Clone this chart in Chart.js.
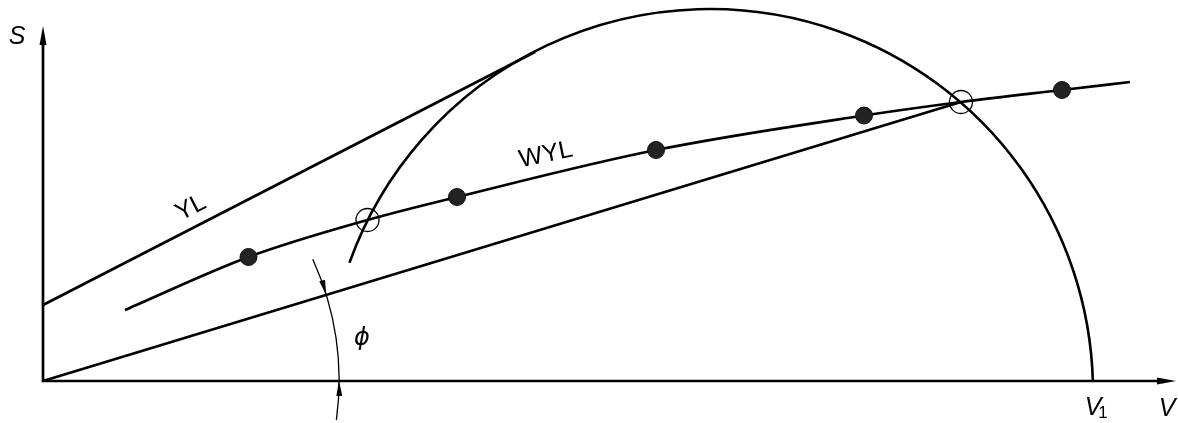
<!DOCTYPE html>
<html>
<head>
<meta charset="utf-8">
<script src="https://cdn.jsdelivr.net/npm/chart.js@4/dist/chart.umd.min.js"></script>
<style>
html,body{margin:0;padding:0;background:#fff;overflow:hidden;}
canvas{display:block;}
</style>
</head>
<body>
<canvas id="c" width="1178" height="423"></canvas>
<script>
// ---- data (units) ----
const axisEnd = [11.33, 3.55];            // arrow tips of V and S axes
const ylLine = [[0, 0.76], [4.92, 3.29]]; // YL tangent line
const originLine = [[0, 0], [9.18, 2.79]];// line from origin to right intersection
const wylX = [0.82, 2.055, 3.245, 4.14, 6.13, 8.21, 9.18, 10.19, 10.87];
const wylY = [0.71, 1.24, 1.61, 1.84, 2.31, 2.655, 2.79, 2.91, 2.99];
const dotX = [2.055, 4.14, 6.13, 8.21, 10.19];
const dotY = [1.24, 1.84, 2.31, 2.655, 2.91];
const openX = [3.245, 9.18];
const openY = [1.61, 2.79];
const arcCenter = [6.67, -0.11];
const arcRadius = 3.83;
const arcStart = [3.07, 1.18];
const phiRadius = 2.96;
const phiAngles = [-7.6, 24.3];           // degrees
const labels = {S:'S', V:'V', V1:'V', sub:'1', YL:'YL', WYL:'WYL', phi:'ϕ'};

const pts = (xs, ys) => xs.map((v, i) => ({x: v, y: ys[i]}));
const seg = a => a.map(p => ({x: p[0], y: p[1]}));

const overlay = {
  id: 'overlay',
  afterDatasetsDraw(chart) {
    const {ctx, scales: {x, y}} = chart;
    const px = v => x.getPixelForValue(v), py = v => y.getPixelForValue(v);
    const unit = px(1) - px(0);
    ctx.save();
    ctx.strokeStyle = '#000'; ctx.fillStyle = '#000';
    // axes
    ctx.lineWidth = 2.7;
    ctx.beginPath();
    ctx.moveTo(px(0), py(axisEnd[1]) + 10); ctx.lineTo(px(0), py(0));
    ctx.lineTo(px(axisEnd[0]) - 10, py(0));
    ctx.stroke();
    const head = (tx, ty, ang, len, hw) => {
      ctx.beginPath();
      ctx.moveTo(tx, ty);
      ctx.lineTo(tx - len * Math.cos(ang) + hw * Math.sin(ang), ty - len * Math.sin(ang) - hw * Math.cos(ang));
      ctx.lineTo(tx - len * Math.cos(ang) - hw * Math.sin(ang), ty - len * Math.sin(ang) + hw * Math.cos(ang));
      ctx.closePath(); ctx.fill();
    };
    head(px(0), py(axisEnd[1]), -Math.PI / 2, 19, 3.5);
    head(px(axisEnd[0]), py(0), 0, 19, 3.5);
    // big arc
    const cx = px(arcCenter[0]), cy = py(arcCenter[1]), R = arcRadius * unit;
    const a0 = Math.atan2(py(arcStart[1]) - cy, px(arcStart[0]) - cx);
    const a1 = Math.asin((py(0) - cy) / R);
    ctx.lineWidth = 2.6;
    ctx.beginPath(); ctx.arc(cx, cy, R, a0, a1, false); ctx.stroke();
    // phi dimension arc
    const ox = px(0), oy = py(0), r = phiRadius * unit;
    const d2r = Math.PI / 180;
    ctx.lineWidth = 1.3;
    ctx.beginPath(); ctx.arc(ox, oy, r, -phiAngles[1] * d2r, -phiAngles[0] * d2r, false); ctx.stroke();
    head(ox + r, oy, -Math.PI / 2 - 0.02, 15, 3);
    const lineAng = Math.atan2(py(originLine[1][1]) - oy, px(originLine[1][0]) - ox);
    const tx = ox + r * Math.cos(lineAng), ty = oy + r * Math.sin(lineAng);
    head(tx, ty, lineAng + Math.PI / 2 + 0.02, 15, 3);
    // labels
    ctx.textAlign = 'center'; ctx.textBaseline = 'middle';
    ctx.font = 'italic 25px "Liberation Sans", Arial, sans-serif';
    ctx.fillText(labels.S, 17, 37);
    ctx.fillText(labels.V, 1167, 409);
    ctx.fillText(labels.V1, 1093, 408);
    ctx.font = 'italic 24px "DejaVu Sans", sans-serif';
    ctx.fillText(labels.phi, 362, 339);
    ctx.font = '17px "Liberation Sans", Arial, sans-serif';
    ctx.fillText(labels.sub, 1103, 413);
    ctx.font = '25px "Liberation Sans", Arial, sans-serif';
    ctx.save(); ctx.translate(191, 208); ctx.rotate(-27 * d2r); ctx.fillText(labels.YL, 0, 0); ctx.restore();
    ctx.save(); ctx.translate(546, 155); ctx.rotate(-11.7 * d2r); ctx.fillText(labels.WYL, 0, 0); ctx.restore();
    ctx.restore();
  }
};

new Chart(document.getElementById('c'), {
  type: 'scatter',
  data: {
    datasets: [
      {data: pts(dotX, dotY), pointRadius: 8.5, pointBackgroundColor: '#222', pointBorderColor: '#111', pointBorderWidth: 1, showLine: false, order: 0},
      {data: pts(openX, openY), pointRadius: 11.5, pointBackgroundColor: 'rgba(0,0,0,0)', pointBorderColor: '#000', pointBorderWidth: 1.3, showLine: false, order: 1},
      {data: pts(wylX, wylY), showLine: true, borderColor: '#000', borderWidth: 2.7, pointRadius: 0, cubicInterpolationMode: 'monotone', order: 2},
      {data: seg(ylLine), showLine: true, borderColor: '#000', borderWidth: 2.7, pointRadius: 0, order: 3},
      {data: seg(originLine), showLine: true, borderColor: '#000', borderWidth: 2.7, pointRadius: 0, order: 4}
    ]
  },
  options: {
    responsive: false, animation: false, devicePixelRatio: 1,
    layout: {autoPadding: false, padding: {left: 43, right: 0, top: 0, bottom: 42}},
    plugins: {legend: {display: false}, tooltip: {enabled: false}},
    scales: {
      x: {type: 'linear', min: 0, max: 11.35, display: false},
      y: {type: 'linear', min: 0, max: 3.81, display: false}
    },
    elements: {line: {borderCapStyle: 'butt'}},
    clip: false
  },
  plugins: [overlay]
});
</script>
</body>
</html>
